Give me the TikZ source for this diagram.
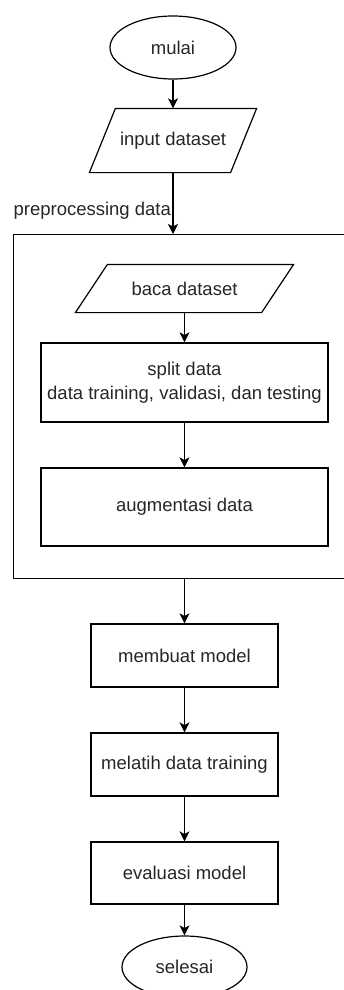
\documentclass[tikz,border=0pt]{standalone}
\usepackage{fontspec}
\setmainfont{Liberation Sans}
\usetikzlibrary{arrows.meta,shapes.geometric}

\begin{document}
\begin{tikzpicture}[x=1pt,y=-1pt,line width=1.2pt,
    every node/.style={font=\fontsize{18.5}{24}\selectfont,text=black!85},
    terminal/.style={draw,ellipse,minimum width=126pt,minimum height=63pt,inner sep=0pt},
    process/.style={draw,rectangle,minimum width=187pt,minimum height=63pt,inner sep=0pt,align=center},
    io/.style={rectangle,inner sep=0pt},
    flow/.style={-{Stealth[length=10pt,width=10pt,inset=2.5pt]}}]
            \useasboundingbox (0,0) rectangle (344,990);
            \clip (0,0) rectangle (344,990);
            \node[terminal] (mulai) at (173,47.5) {mulai};
            \node[io,minimum width=140pt,minimum height=63pt] (inp) at (173,140.5) {input dataset};
            \draw ([xshift=13pt]inp.north west) -- ([xshift=13pt]inp.north east) -- ([xshift=-13pt]inp.south east) -- ([xshift=-13pt]inp.south west) -- cycle;
            \draw[flow] (mulai) -- (inp);
            % preprocessing block, its right side runs off the page
            \node[draw,rectangle,minimum width=345pt,minimum height=344pt,inner sep=0pt,anchor=north west] (pre) at (13,234) {};
            \node[anchor=west,inner sep=0pt] (prelabel) at (13,211) {preprocessing data};
            \draw[flow] (inp) -- (inp |- pre.north);
            \node[io,minimum width=185pt,minimum height=47pt] (baca) at (184.5,288.5) {baca dataset};
            \draw ([xshift=16pt]baca.north west) -- ([xshift=16pt]baca.north east) -- ([xshift=-16pt]baca.south east) -- ([xshift=-16pt]baca.south west) -- cycle;
            \node[process,minimum width=287pt,minimum height=79pt] (split) at (184.5,382.5) {split data\\data training, validasi, dan testing};
            \node[process,minimum width=287pt,minimum height=78pt] (aug) at (184.5,507) {augmentasi data};
            \draw[flow] (baca) -- (split);
            \draw[flow] (split) -- (aug);
            % model
            \node[process] (buat) at (184.5,655.5) {membuat model};
            \node[process] (latih) at (184.5,764.5) {melatih data training};
            \node[process,minimum height=62pt] (eval) at (184.5,873) {evaluasi model};
            \node[terminal,minimum width=125pt,minimum height=62pt] (selesai) at (184.5,967) {selesai};
            \draw[flow] (pre.south -| buat) -- (buat);
            \draw[flow] (buat) -- (latih);
            \draw[flow] (latih) -- (eval);
            \draw[flow] (eval) -- (selesai);
        \end{tikzpicture}
\end{document}
